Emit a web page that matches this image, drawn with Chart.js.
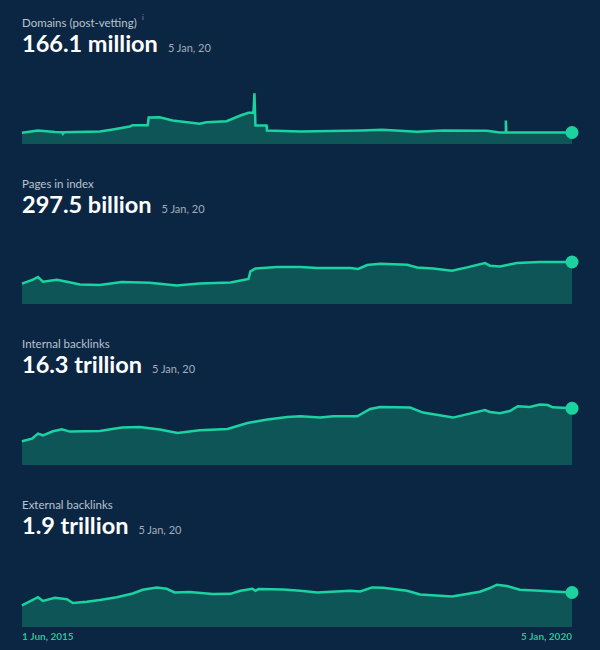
<!DOCTYPE html>
<html lang="en">
<head>
    <meta charset="UTF-8">
    <title>Index stats</title>
    <script src="https://cdnjs.cloudflare.com/ajax/libs/Chart.js/4.4.1/chart.umd.min.js"></script>
    <style>
        body { margin: 0; background: #0b2643; font-family: Lato, "Open Sans", sans-serif; }
        #page { position: relative; width: 600px; height: 650px; overflow: hidden; }
        .panel { position: absolute; left: 0; width: 600px; height: 160px; }
        .label { position: absolute; left: 22px; top: 16px; font-size: 11.5px; line-height: 14px; color: #b9c3ce; white-space: nowrap; }
        .info { position: absolute; left: 142px; top: 13px; font-size: 7px; line-height: 8px; color: #8d99a8; }
        .head { position: absolute; left: 22px; top: 29px; display: flex; align-items: baseline; white-space: nowrap; }
        .big { font-size: 23.5px; font-weight: bold; color: #ffffff; }
        .when { font-size: 11px; color: #a3adb9; margin-left: 10px; }
        .chart { position: absolute; left: 10px; width: 575px; }
    </style>
</head>
<body>
<div id="page"></div>
<script>
    // shared x axis: months since 1 Jun 2015
    const xTickLabels = ['1 Jun, 2015', '5 Jan, 2020'];
    const lastMonth = 55.13;

    const titles = ['Domains (post-vetting)', 'Pages in index', 'Internal backlinks', 'External backlinks'];
    const headlines = ['166.1 million', '297.5 billion', '16.3 trillion', '1.9 trillion'];
    const headlineDate = '5 Jan, 20';

    // Domains, millions
    const domainsMonths = [0, 1.6, 3.3, 4.0, 4.1, 4.2, 7.8, 9.1, 10.8, 11.1, 12.6, 12.7, 13.8, 15.1, 17.8, 18.5, 20.5, 21.9, 22.7, 23.2, 23.3, 23.4, 24.5, 24.55, 27.9, 34.0, 36.1, 39.6, 42.2, 46.6, 47.9, 48.45, 48.5, 48.55, 55.13];
    const domainsValues = [165.7, 168.9, 166.8, 166.5, 164.3, 166.5, 167.5, 170.3, 174.5, 176.3, 176.3, 187.1, 187.5, 182.9, 178.3, 180.5, 181.9, 189.9, 193.7, 193.7, 221.1, 175.9, 175.9, 168.9, 167.5, 168.9, 169.9, 167.1, 168.9, 168.5, 166.1, 166.1, 182.9, 166.1, 166.1];

    // Pages in index, billions
    const pagesMonths = [0, 1.1, 1.6, 2.1, 3.5, 4.5, 5.8, 7.8, 10.0, 12.8, 15.5, 17.8, 20.9, 22.7, 22.9, 23.4, 25.6, 27.9, 29.6, 32.9, 33.7, 34.6, 35.9, 38.6, 39.6, 41.2, 43.1, 44.6, 46.4, 46.9, 47.9, 49.6, 51.9, 55.13];
    const pagesValues = [143.8, 172.1, 191.2, 158.0, 172.1, 158.0, 138.8, 134.6, 155.8, 150.9, 131.7, 145.9, 153.0, 177.1, 230.9, 252.2, 262.1, 262.1, 255.0, 255.0, 247.9, 276.2, 285.4, 278.4, 259.2, 252.2, 235.9, 259.2, 290.4, 271.3, 266.3, 290.4, 297.5, 297.5];

    // Internal backlinks, trillions
    const internalMonths = [0, 1.0, 1.6, 2.1, 3.1, 4.0, 4.8, 7.8, 10.0, 11.8, 13.8, 15.6, 17.8, 20.6, 22.6, 24.6, 26.6, 27.9, 29.9, 31.2, 33.6, 34.9, 35.9, 38.9, 40.2, 43.2, 46.4, 46.9, 47.9, 48.9, 49.7, 50.9, 51.9, 52.7, 53.2, 55.13];
    const internalValues = [6.81, 7.59, 9.03, 8.54, 9.69, 10.26, 9.60, 9.78, 10.75, 10.93, 10.18, 9.20, 9.98, 10.35, 12.08, 13.05, 13.80, 14.00, 13.63, 14.00, 14.00, 16.10, 16.68, 16.50, 15.07, 13.63, 15.81, 15.24, 14.86, 15.53, 16.88, 16.68, 17.37, 17.25, 16.59, 16.30];

    // External backlinks, trillions
    const externalMonths = [0, 1.6, 2.1, 3.3, 4.5, 5.1, 6.5, 7.8, 9.5, 11.1, 12.1, 13.5, 14.5, 15.3, 16.8, 19.1, 20.9, 21.9, 23.1, 23.4, 23.7, 26.2, 27.9, 29.6, 32.9, 33.9, 35.1, 36.2, 38.6, 39.9, 43.1, 45.9, 46.9, 47.6, 48.6, 49.9, 51.9, 55.13];
    const externalValues = [1.196, 1.643, 1.436, 1.604, 1.531, 1.324, 1.397, 1.492, 1.643, 1.844, 2.051, 2.179, 2.107, 1.900, 1.922, 1.811, 1.827, 1.995, 2.107, 1.995, 2.090, 2.068, 1.995, 1.900, 1.995, 1.956, 2.179, 2.163, 1.995, 1.788, 1.676, 1.939, 2.146, 2.330, 2.258, 2.051, 1.995, 1.900];

    const series = [
        { months: domainsMonths, values: domainsValues, min: 150, max: 239.6 },
        { months: pagesMonths, values: pagesValues, min: 0, max: 453.3 },
        { months: internalMonths, values: internalValues, min: 0, max: 18.4 },
        { months: externalMonths, values: externalValues, min: 0, max: 3.58 }
    ];

    const lineColor = '#1bd3a0';
    const fillColor = '#0e5558';
    const page = document.getElementById('page');

    series.forEach((s, i) => {
        const isLast = i === series.length - 1;
        const top = i * 160.7;
        const panel = document.createElement('div');
        panel.className = 'panel';
        panel.style.top = top + 'px';
        panel.innerHTML =
            '<div class="label">' + titles[i] + '</div>' +
            (i === 0 ? '<div class="info">i</div>' : '') +
            '<div class="head"><span class="big">' + headlines[i] + '</span><span class="when">' + headlineDate + '</span></div>';
        page.appendChild(panel);

        // chart area bottom sits 143.5px into the panel, 64px tall
        const box = document.createElement('div');
        box.className = 'chart';
        box.style.top = (top + 143.5 - 64 - 10) + 'px';
        box.style.height = (isLast ? 94 : 74) + 'px';
        const canvas = document.createElement('canvas');
        box.appendChild(canvas);
        page.appendChild(box);

        const n = s.values.length;
        new Chart(canvas, {
            type: 'line',
            data: {
                datasets: [{
                    data: s.months.map((m, k) => ({ x: m, y: s.values[k] })),
                    borderColor: lineColor,
                    borderWidth: 2.5,
                    backgroundColor: fillColor,
                    fill: 'start',
                    tension: 0,
                    pointRadius: ctx => ctx.dataIndex === n - 1 ? 6.5 : 0,
                    pointHoverRadius: 0,
                    pointBackgroundColor: lineColor,
                    pointBorderWidth: 0,
                    clip: false
                }]
            },
            options: {
                responsive: true,
                maintainAspectRatio: false,
                animation: false,
                layout: { autoPadding: false, padding: { left: 12, right: 13, top: 10, bottom: 0 } },
                plugins: { legend: { display: false }, tooltip: { enabled: false } },
                scales: {
                    x: {
                        type: 'linear',
                        min: 0,
                        max: lastMonth,
                        display: isLast,
                        grid: { display: false, drawTicks: false },
                        border: { display: false },
                        afterBuildTicks: axis => { axis.ticks = [{ value: 0 }, { value: lastMonth }]; },
                        ticks: {
                            align: 'inner',
                            maxRotation: 0,
                            padding: 3.5,
                            color: '#1ec99b',
                            font: { family: 'Lato', size: 10, weight: 'bold' },
                            callback: (v, k) => xTickLabels[k]
                        }
                    },
                    y: { display: false, min: s.min, max: s.max }
                }
            }
        });
    });
</script>
</body>
</html>
